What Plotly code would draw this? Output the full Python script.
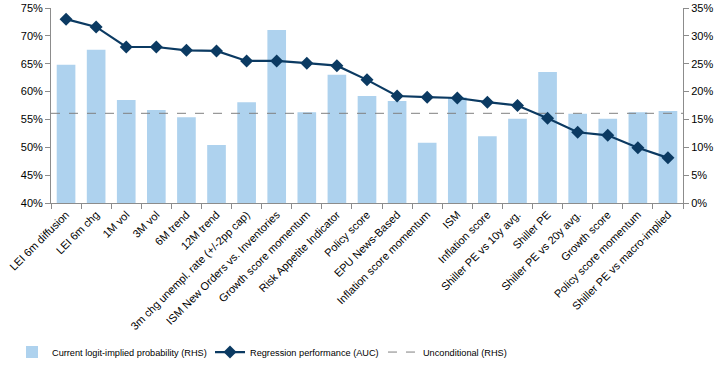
import plotly.graph_objects as go

categories = [
    "LEI 6m diffusion", "LEI 6m chg", "1M vol", "3M vol", "6M trend", "12M trend",
    "3m chg unempl. rate (+/-2pp cap)", "ISM New Orders vs. Inventories",
    "Growth score momentum", "Risk Appetite Indicator", "Policy score",
    "EPU News-Based", "Inflation score momentum", "ISM", "Inflation score",
    "Shiller PE vs 10y avg.", "Shiller PE", "Shiller PE vs 20y avg.",
    "Growth score", "Policy score momentum", "Shiller PE vs macro-implied",
]

# Regression performance (AUC), left axis, %
auc = [73.0, 71.6, 68.0, 68.0, 67.4, 67.3, 65.5, 65.5, 65.1, 64.65, 62.1,
       59.2, 59.0, 58.85, 58.1, 57.5, 55.2, 52.7, 52.15, 49.9, 48.1]

# Current logit-implied probability, right axis, %
prob = [24.8, 27.5, 18.5, 16.7, 15.4, 10.4, 18.1, 31.05, 16.3, 23.0, 19.2,
        18.3, 10.8, 19.0, 12.0, 15.1, 23.5, 16.0, 15.1, 16.3, 16.5]

# Unconditional probability, right axis, %
unconditional = 16.1

left_ticks = [40, 45, 50, 55, 60, 65, 70, 75]
right_ticks = [0, 5, 10, 15, 20, 25, 30, 35]

n = len(categories)
xs = list(range(n))

BAR = "#AED2EE"
LINE = "#0B3A62"
AX = "#8C8C8C"
FONT = "Liberation Sans, Arial, sans-serif"

fig = go.Figure()
fig.add_trace(go.Bar(
    x=xs, y=prob, name="Current logit-implied probability (RHS)",
    marker=dict(color=BAR, line=dict(width=0)), yaxis="y", width=0.62,
    legend="legend",
))
fig.add_trace(go.Scatter(
    x=xs, y=auc, name="Regression performance (AUC)", mode="lines+markers",
    line=dict(color=LINE, width=2.2),
    marker=dict(symbol="diamond", size=10, color=LINE), yaxis="y2",
    legend="legend2",
))
fig.add_trace(go.Scatter(
    x=[-0.5, n - 0.5], y=[unconditional, unconditional],
    name="Unconditional (RHS)", mode="lines",
    line=dict(color="#808080", width=1, dash="dash"), yaxis="y",
    legend="legend3",
))

leg_common = dict(orientation="h", y=-0.69, xanchor="left", yanchor="top",
                  font=dict(size=9.2, color="#000000", family=FONT),
                  itemwidth=30, bgcolor="rgba(0,0,0,0)")

fig.update_layout(
    width=719, height=378,
    margin=dict(l=51, r=36, t=8, b=175),
    paper_bgcolor="white", plot_bgcolor="white",
    font=dict(family=FONT, size=11, color="#000000"),
    showlegend=True,
    legend=dict(x=-0.0617, **leg_common),
    legend2=dict(x=0.2516, **leg_common),
    legend3=dict(x=0.5253, **leg_common),
    xaxis=dict(
        range=[-0.5, n - 0.5], tickmode="array", tickvals=xs, ticktext=categories,
        tickangle=-45, ticks="", showgrid=False, zeroline=False, automargin=False,
        ticklabeloverflow="allow",
        showline=True, linecolor=AX, linewidth=1,
        minor=dict(tick0=-0.5, dtick=1, ticks="outside", ticklen=5,
                   tickcolor=AX, showgrid=False),
        tickfont=dict(size=11),
    ),
    yaxis=dict(
        range=[0, 35], tickmode="array", tickvals=right_ticks,
        ticktext=[f"{v}%" for v in right_ticks], side="right", automargin=False,
        showgrid=False, zeroline=False, showline=True, linecolor=AX,
        ticks="outside", ticklen=5, tickcolor=AX, tickfont=dict(size=11),
    ),
    yaxis2=dict(
        range=[40, 75], tickmode="array", tickvals=left_ticks,
        ticktext=[f"{v}%" for v in left_ticks], side="left", automargin=False,
        overlaying="y", showgrid=False, zeroline=False, showline=True,
        linecolor=AX, ticks="outside", ticklen=5, tickcolor=AX,
        tickfont=dict(size=11),
    ),
    bargap=0.38,
)

fig.write_html("out.html", config={"displayModeBar": False},
               post_script="document.body.style.margin='0';")
